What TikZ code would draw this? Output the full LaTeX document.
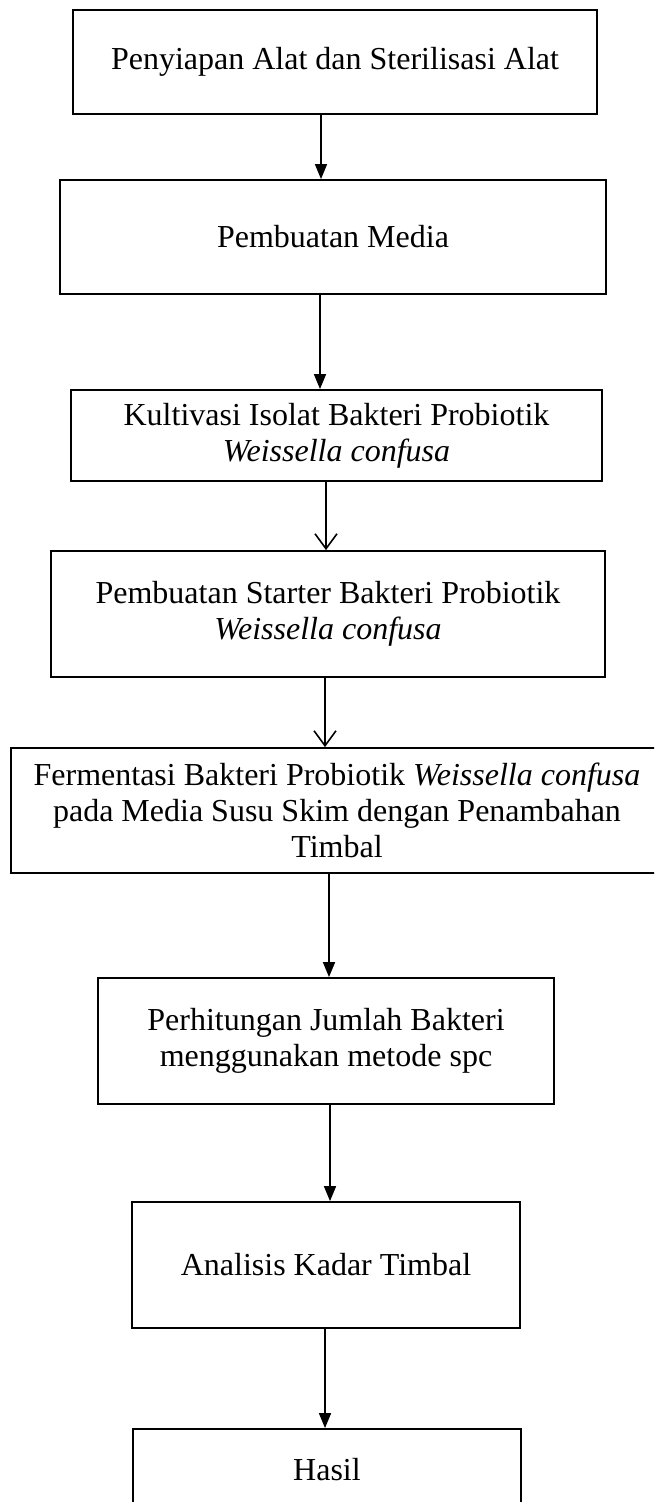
\documentclass[tikz,border=0pt]{standalone}
\usepackage{fontspec}
\setmainfont{Liberation Serif}
\usepackage{tikz}
\usetikzlibrary{arrows.meta}

\begin{document}
\begin{tikzpicture}[x=1pt, y=-1pt,
	kotak/.style={draw, line width=1.8pt, inner sep=0pt, align=center, font=\fontsize{32}{36}\selectfont},
	panah/.style={-{Triangle[length=15pt,width=12pt]}, line width=1.6pt},
	panahv/.style={-{Straight Barb[length=15pt,width=22pt]}, line width=1.6pt}]
	\useasboundingbox (0,0) rectangle (654,1502);
	\clip (0,0) rectangle (654,1502);
	% kotak-kotak tahapan
	\node[kotak, minimum width=524pt, minimum height=104pt] (alat) at (335,62) {Penyiapan Alat dan Sterilisasi Alat};
	\node[kotak, minimum width=546pt, minimum height=114pt] (media) at (333,237) {Pembuatan Media};
	\node[kotak, minimum width=531pt, minimum height=91pt] (kultivasi) at (336.5,435.5) {Kultivasi Isolat Bakteri Probiotik\\ \textit{Weissella confusa}};
	\node[kotak, minimum width=554pt, minimum height=126pt] (starter) at (328,614) {Pembuatan Starter Bakteri Probiotik\\ \textit{Weissella confusa}};
	\node[kotak, minimum width=652pt, minimum height=125pt] (fermentasi) at (337,810.5) {Fermentasi Bakteri Probiotik \textit{Weissella confusa}\\ pada Media Susu Skim dengan Penambahan\\ Timbal};
	\node[kotak, minimum width=456pt, minimum height=126pt] (spc) at (326,1041) {Perhitungan Jumlah Bakteri\\ menggunakan metode spc};
	\node[kotak, minimum width=388pt, minimum height=126pt] (timbal) at (326,1265) {Analisis Kadar Timbal};
	\node[kotak, minimum width=388pt, minimum height=82pt] (hasil) at (327,1470) {Hasil};
	% panah
	\draw[panah] ([xshift=-14pt]alat.south) -- ([xshift=-12pt]media.north);
	\draw[panah] ([xshift=-13pt]media.south) -- ([xshift=-16.5pt]kultivasi.north);
	\draw[panahv] ([xshift=-10.5pt]kultivasi.south) -- ([xshift=-2pt]starter.north);
	\draw[panahv] ([xshift=-3pt]starter.south) -- ([xshift=-12pt]fermentasi.north);
	\draw[panah] ([xshift=-8pt]fermentasi.south) -- ([xshift=3pt]spc.north);
	\draw[panah] ([xshift=4pt]spc.south) -- ([xshift=4pt]timbal.north);
	\draw[panah] ([xshift=-1pt]timbal.south) -- ([xshift=-2pt]hasil.north);
\end{tikzpicture}
\end{document}
